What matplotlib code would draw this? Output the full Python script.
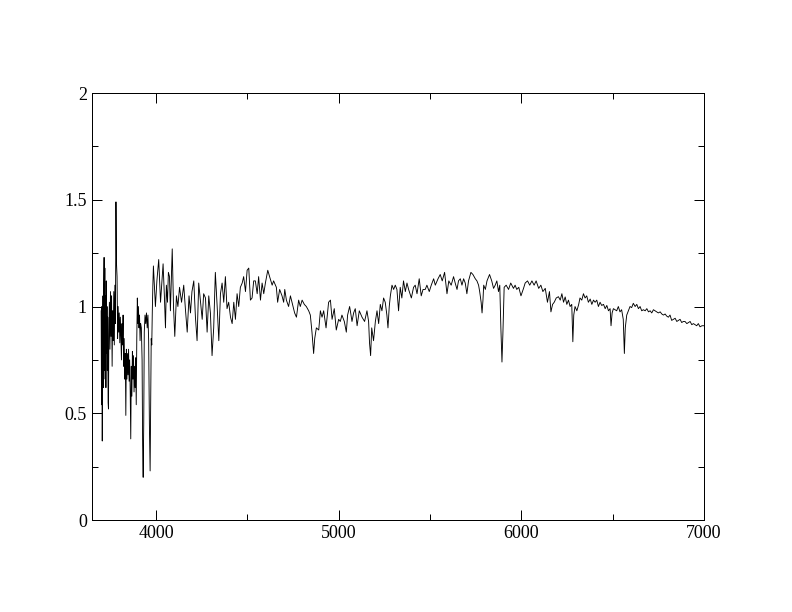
import matplotlib
matplotlib.use("Agg")
import matplotlib.pyplot as plt
from matplotlib.ticker import MultipleLocator


# longitudes de onda (A) y flujo normalizado
onda_azul = [3700, 3702, 3704, 3706, 3708, 3710, 3712, 3714, 3716, 3718,
             3720, 3722, 3724, 3726, 3728, 3730, 3732, 3734, 3736, 3738,
             3740, 3742, 3745, 3748, 3751, 3754, 3757, 3760, 3763, 3766,
             3769, 3772, 3775, 3778, 3781, 3784, 3787, 3790, 3793, 3796,
             3799, 3802, 3805, 3808, 3811, 3814, 3817, 3820, 3823, 3826,
             3829, 3832, 3835, 3838, 3841, 3844, 3847, 3850, 3853, 3856,
             3859, 3862, 3865, 3868, 3871, 3874, 3877, 3880, 3883, 3886,
             3889, 3892, 3895, 3898, 3901, 3904, 3907, 3910, 3913, 3916,
             3920, 3924, 3927, 3930, 3933, 3936, 3940, 3944, 3948, 3952,
             3956, 3960, 3964, 3968, 3971, 3974, 3977, 3980, 3983, 3986]
flujo_azul = [0.98, 0.54, 1.00, 0.37, 0.85, 1.05, 0.62, 1.10, 1.23, 0.70,
              1.18, 0.66, 1.05, 0.62, 1.12, 0.78, 1.00, 0.70, 0.95, 0.55,
              0.52, 0.85, 1.02, 0.80, 1.07, 0.86, 1.05, 0.72, 0.98, 0.84,
              1.07, 0.82, 1.10, 0.92, 1.49, 1.20, 1.14, 0.85, 1.00, 0.88,
              0.97, 0.83, 0.95, 0.86, 0.75, 0.92, 0.82, 0.96, 0.72, 0.85,
              0.66, 0.78, 0.49, 0.80, 0.66, 0.78, 0.68, 0.80, 0.65, 0.75,
              0.60, 0.38, 0.72, 0.58, 0.79, 0.66, 0.77, 0.60, 0.72, 0.62,
              0.76, 0.54, 0.85, 1.04, 0.92, 1.00, 0.90, 0.96, 0.84, 0.92,
              0.90, 0.75, 0.35, 0.20, 0.45, 0.88, 0.96, 0.92, 0.97, 0.90,
              0.96, 0.84, 0.45, 0.23, 0.55, 0.85, 0.82, 0.98, 1.10, 1.19]

onda_media = [3997, 4005, 4015, 4025, 4039, 4046, 4052, 4057, 4063, 4068,
              4074, 4079, 4089, 4096, 4103, 4112, 4120, 4129, 4140, 4152,
              4161, 4171, 4181, 4189, 4197, 4207, 4216, 4225, 4234, 4243,
              4253, 4261, 4271, 4280, 4289, 4298, 4307, 4316, 4325, 4335,
              4344, 4353, 4362, 4371, 4380, 4389, 4398, 4408, 4417, 4426,
              4435, 4444, 4453, 4462, 4472, 4480, 4490, 4499, 4508, 4517,
              4526, 4535, 4544, 4554, 4562, 4572, 4581, 4590, 4599, 4612,
              4622, 4636, 4644, 4659, 4666, 4677, 4690, 4699, 4705, 4714,
              4726, 4736, 4750, 4759, 4769, 4781, 4790, 4800, 4812, 4823,
              4836, 4845, 4854, 4863, 4869, 4878, 4891, 4900, 4909, 4918,
              4931, 4945, 4955, 4964, 4976, 4987, 5000, 5009, 5018, 5031,
              5042, 5049, 5060]
flujo_media = [1.00, 1.12, 1.22, 1.02, 1.20, 1.05, 0.90, 1.10, 1.02, 1.16,
               1.14, 0.98, 1.27, 1.00, 0.86, 1.05, 1.00, 1.09, 1.02, 1.10,
               0.99, 0.88, 1.05, 0.97, 1.07, 1.12, 0.95, 0.84, 1.11, 1.03,
               0.94, 1.06, 1.04, 0.88, 1.05, 0.97, 0.77, 0.90, 1.16, 1.00,
               0.84, 1.06, 1.11, 1.02, 1.14, 0.99, 1.02, 0.95, 0.92, 1.02,
               0.94, 1.06, 1.00, 1.09, 1.11, 1.14, 1.07, 1.17, 1.18, 1.03,
               1.04, 1.12, 1.12, 1.06, 1.14, 1.03, 1.11, 1.06, 1.11, 1.17,
               1.14, 1.10, 1.12, 1.09, 1.02, 1.08, 1.05, 1.02, 1.08, 1.03,
               1.00, 1.05, 1.00, 0.97, 0.95, 1.03, 1.00, 1.03, 1.01, 1.00,
               0.98, 0.96, 0.88, 0.78, 0.85, 0.90, 0.89, 0.98, 0.95, 0.98,
               0.90, 1.02, 1.03, 0.94, 0.99, 0.89, 0.94, 0.93, 0.96, 0.93,
               0.88, 0.96, 1.00]

onda_verde = [5064, 5073, 5082, 5091, 5101, 5113, 5128, 5142, 5155, 5164,
              5169, 5175, 5181, 5191, 5201, 5210, 5219, 5228, 5237, 5246,
              5255, 5264, 5270, 5277, 5283, 5292, 5301, 5310, 5319, 5328,
              5337, 5346, 5355, 5365, 5374, 5383, 5398, 5410, 5419, 5429,
              5441, 5452, 5462, 5474, 5483, 5496, 5507, 5520, 5529, 5544,
              5556, 5567, 5580, 5593, 5603, 5616, 5629, 5638, 5648, 5656,
              5666, 5675, 5684, 5693, 5702, 5711, 5724, 5735, 5748, 5757,
              5766, 5772, 5780, 5785, 5790, 5794, 5803, 5812, 5826, 5838,
              5848, 5857, 5866, 5875, 5882, 5888, 5894, 5899, 5906, 5917,
              5930, 5942, 5957, 5966, 5975, 5986, 5998, 6012, 6021, 6034,
              6046, 6058, 6070, 6081, 6095, 6107, 6118, 6131, 6143, 6154,
              6162, 6171, 6180, 6191, 6203]
flujo_verde = [0.98, 0.93, 0.97, 0.99, 0.91, 0.98, 0.95, 0.93, 0.98, 0.93,
               0.83, 0.77, 0.90, 0.84, 0.93, 0.98, 0.92, 1.01, 0.98, 1.04,
               1.02, 0.96, 0.90, 1.00, 1.05, 1.10, 1.08, 1.10, 1.08, 0.98,
               1.09, 1.04, 1.12, 1.07, 1.11, 1.08, 1.04, 1.09, 1.10, 1.06,
               1.13, 1.05, 1.08, 1.08, 1.10, 1.07, 1.10, 1.13, 1.10, 1.13,
               1.15, 1.12, 1.16, 1.06, 1.12, 1.10, 1.14, 1.11, 1.08, 1.12,
               1.13, 1.10, 1.13, 1.11, 1.06, 1.12, 1.16, 1.15, 1.13, 1.12,
               1.10, 1.07, 1.02, 0.97, 1.03, 1.10, 1.08, 1.12, 1.15, 1.12,
               1.085, 1.10, 1.12, 1.07, 1.10, 0.90, 0.74, 0.87, 1.09, 1.10,
               1.08, 1.11, 1.085, 1.10, 1.08, 1.09, 1.05, 1.085, 1.11, 1.12,
               1.10, 1.12, 1.10, 1.12, 1.085, 1.10, 1.07, 1.085, 1.02, 1.07,
               0.975, 1.01, 1.02, 1.04, 1.046]

onda_roja = [6213, 6222, 6231, 6240, 6249, 6258, 6267, 6276, 6282, 6287,
             6294, 6304, 6314, 6321, 6331, 6340, 6349, 6358, 6367, 6377,
             6386, 6395, 6404, 6413, 6422, 6431, 6440, 6450, 6459, 6468,
             6477, 6486, 6491, 6497, 6504, 6513, 6522, 6531, 6540, 6549,
             6558, 6564, 6569, 6577, 6586, 6595, 6604, 6613, 6623, 6632,
             6641, 6650, 6659, 6668, 6678, 6687, 6696, 6705, 6714, 6723,
             6732, 6742, 6750, 6760, 6769, 6778, 6787, 6796, 6805, 6814,
             6823, 6832, 6842, 6851, 6860, 6869, 6878, 6887, 6896, 6906,
             6915, 6924, 6933, 6942, 6951, 6960, 6969, 6978, 6989, 7000]
flujo_rojo = [1.03, 1.06, 1.02, 1.045, 1.01, 1.03, 1.00, 1.01, 0.835, 0.96,
              1.00, 0.98, 1.01, 1.04, 1.03, 1.06, 1.04, 1.05, 1.02, 1.035,
              1.01, 1.03, 1.02, 1.03, 1.00, 1.02, 1.005, 1.01, 0.99, 1.005,
              0.98, 0.99, 0.91, 0.97, 0.99, 0.985, 0.98, 1.00, 0.975, 0.985,
              0.94, 0.78, 0.90, 0.96, 0.98, 1.00, 0.995, 1.015, 1.00, 1.01,
              0.99, 1.00, 0.98, 0.985, 0.98, 0.99, 0.975, 0.98, 0.97, 0.985,
              0.98, 0.975, 0.97, 0.975, 0.965, 0.96, 0.965, 0.955, 0.95, 0.96,
              0.935, 0.94, 0.945, 0.93, 0.935, 0.94, 0.925, 0.93, 0.93, 0.92,
              0.925, 0.93, 0.915, 0.92, 0.915, 0.91, 0.92, 0.905, 0.91, 0.91]

onda = onda_azul + onda_media + onda_verde + onda_roja
flujo = flujo_azul + flujo_media + flujo_verde + flujo_rojo

plt.rcParams['font.family'] = ['Liberation Serif', 'DejaVu Serif']

fig = plt.figure(figsize=(11, 8.5), dpi=72)
ax = fig.add_axes([0.1162, 0.1503, 0.7727, 0.6977])
ax.plot(onda, flujo, color='black', linewidth=0.9)

ax.set_xlim(3650, 7000)
ax.set_ylim(0, 2)
ax.xaxis.set_major_locator(MultipleLocator(1000))
ax.xaxis.set_minor_locator(MultipleLocator(500))
ax.yaxis.set_major_locator(MultipleLocator(0.5))
ax.yaxis.set_minor_locator(MultipleLocator(0.25))
ax.yaxis.set_major_formatter(plt.FuncFormatter(lambda v, p: f"{v:g}"))

ax.tick_params(which='both', direction='in', top=True, right=True,
               width=1, labelsize=18)
ax.tick_params(which='major', length=10, pad=5)
ax.tick_params(which='minor', length=6)
for lado in ax.spines.values():
    lado.set_linewidth(1)

fig.savefig("out.png", dpi=72)
